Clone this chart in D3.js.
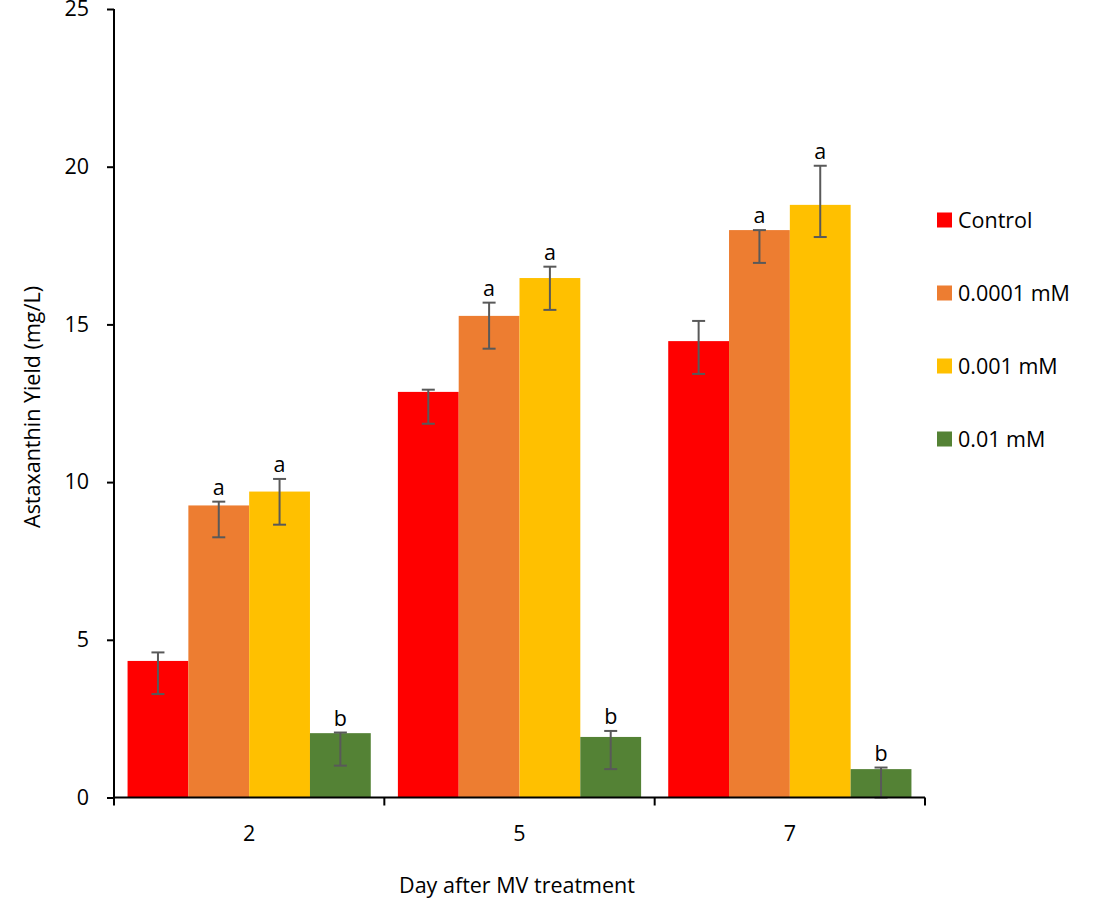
<!DOCTYPE html>
<html>
<head>
<meta charset="utf-8">
<script src="https://cdn.jsdelivr.net/npm/d3@7"></script>
<style>
  body { margin: 0; background: #fff; }
  svg { display: block; }
  text { font-family: "Open Sans", Lato, sans-serif; fill: #000; }
</style>
</head>
<body>
<svg id="chart" width="1102" height="900"></svg>
<script>
// ---- data ----
const days = ["2", "5", "7"];
const seriesNames = ["Control", "0.0001 mM", "0.001 mM", "0.01 mM"];
const seriesColors = ["#FF0000", "#ED7D31", "#FFC000", "#548235"];
// values per series, in order of days
const controlValues = [4.33, 12.86, 14.47];
const mv0001Values = [9.26, 15.27, 17.99];
const mv001Values = [9.70, 16.47, 18.79];
const mv01Values = [2.04, 1.92, 0.90];
// error bar upper ends
const controlErrHigh = [4.60, 12.93, 15.11];
const mv0001ErrHigh = [9.38, 15.69, 17.99];
const mv001ErrHigh = [10.10, 16.83, 20.03];
const mv01ErrHigh = [2.06, 2.11, 0.95];
// error bar lower ends
const controlErrLow = [3.28, 11.85, 13.43];
const mv0001ErrLow = [8.25, 14.23, 16.95];
const mv001ErrLow = [8.65, 15.46, 17.77];
const mv01ErrLow = [1.01, 0.90, 0.0];
// significance letters
const controlLetters = ["", "", ""];
const mv0001Letters = ["a", "a", "a"];
const mv001Letters = ["a", "a", "a"];
const mv01Letters = ["b", "b", "b"];
const yTicks = [0, 5, 10, 15, 20, 25];
const yTitle = "Astaxanthin Yield (mg/L)";
const xTitle = "Day after MV treatment";

const allValues = [controlValues, mv0001Values, mv001Values, mv01Values];
const allHigh = [controlErrHigh, mv0001ErrHigh, mv001ErrHigh, mv01ErrHigh];
const allLow = [controlErrLow, mv0001ErrLow, mv001ErrLow, mv01ErrLow];
const allLetters = [controlLetters, mv0001Letters, mv001Letters, mv01Letters];

const records = [];
days.forEach((d, di) => {
  seriesNames.forEach((s, si) => {
    records.push({day: d, series: s, si, value: allValues[si][di],
      hi: allHigh[si][di], lo: allLow[si][di], letter: allLetters[si][di]});
  });
});

const FONT = "'Open Sans', Lato, sans-serif";
const FS = 21.5;

// ---- layout ----
const svg = d3.select("#chart");
const x0 = d3.scaleBand().domain(days).range([114, 925]).paddingInner(0).paddingOuter(0);
const x1 = d3.scaleBand().domain(seriesNames).range([0, x0.bandwidth()]).paddingInner(0).paddingOuter(0.223);
const y = d3.scaleLinear().domain([0, 25]).range([797.5, 9]);
const color = d3.scaleOrdinal().domain(seriesNames).range(seriesColors);

// bars
svg.append("g").selectAll("rect").data(records).join("rect")
  .attr("x", d => x0(d.day) + x1(d.series))
  .attr("y", d => y(d.value))
  .attr("width", x1.bandwidth())
  .attr("height", d => y(0) - y(d.value))
  .attr("fill", d => color(d.series));

// error bars
const eg = svg.append("g").attr("stroke", "#595959").attr("stroke-width", 2);
records.forEach(d => {
  const cx = x0(d.day) + x1(d.series) + x1.bandwidth() / 2;
  eg.append("line").attr("x1", cx).attr("x2", cx).attr("y1", y(d.hi)).attr("y2", y(d.lo));
  eg.append("line").attr("x1", cx - 6.5).attr("x2", cx + 6.5).attr("y1", y(d.hi)).attr("y2", y(d.hi));
  eg.append("line").attr("x1", cx - 6.5).attr("x2", cx + 6.5).attr("y1", y(d.lo)).attr("y2", y(d.lo));
});

// letters
svg.append("g").selectAll("text").data(records.filter(d => d.letter)).join("text")
  .attr("x", d => x0(d.day) + x1(d.series) + x1.bandwidth() / 2)
  .attr("y", d => y(d.hi) - 7)
  .attr("text-anchor", "middle")
  .attr("font-size", FS)
  .text(d => d.letter);

// y axis
const yAxis = svg.append("g").attr("transform", "translate(114,0)")
  .call(d3.axisLeft(y).tickValues(yTicks).tickSize(7).tickPadding(18).tickSizeOuter(0));
yAxis.select(".domain").attr("stroke", "#000").attr("stroke-width", 2).attr("d", `M0,${y(25)}V${y(0)}`);
yAxis.selectAll(".tick line").attr("stroke", "#000").attr("stroke-width", 2);
yAxis.selectAll(".tick text").attr("font-size", FS).attr("font-family", FONT).attr("fill", "#000");

// x axis
const xAxis = svg.append("g").attr("transform", `translate(0,${y(0)})`)
  .call(d3.axisBottom(x0).tickSize(0).tickPadding(28).tickSizeOuter(0));
xAxis.select(".domain").attr("stroke", "#000").attr("stroke-width", 2).attr("d", "M114,0H925");
xAxis.selectAll(".tick text").attr("font-size", FS).attr("font-family", FONT).attr("fill", "#000");
// boundary ticks between categories
const bounds = days.map(d => x0(d)).concat([x0(days[days.length - 1]) + x0.bandwidth()]);
xAxis.append("g").selectAll("line").data(bounds).join("line")
  .attr("x1", d => d).attr("x2", d => d).attr("y1", 0).attr("y2", 8)
  .attr("stroke", "#000").attr("stroke-width", 2);

// axis titles
svg.append("text")
  .attr("transform", "translate(40,407) rotate(-90)")
  .attr("text-anchor", "middle").attr("font-size", FS)
  .text(yTitle);
svg.append("text")
  .attr("x", 517).attr("y", 893)
  .attr("text-anchor", "middle").attr("font-size", FS)
  .text(xTitle);

// legend
const legendY = [220, 293, 366, 439];
const lg = svg.append("g").selectAll("g").data(seriesNames).join("g")
  .attr("transform", (d, i) => `translate(937,${legendY[i]})`);
lg.append("rect").attr("x", 0).attr("y", -7.5).attr("width", 15).attr("height", 15)
  .attr("fill", d => color(d));
lg.append("text").attr("x", 21).attr("y", 0).attr("dy", "0.36em")
  .attr("font-size", FS).text(d => d);
</script>
</body>
</html>
